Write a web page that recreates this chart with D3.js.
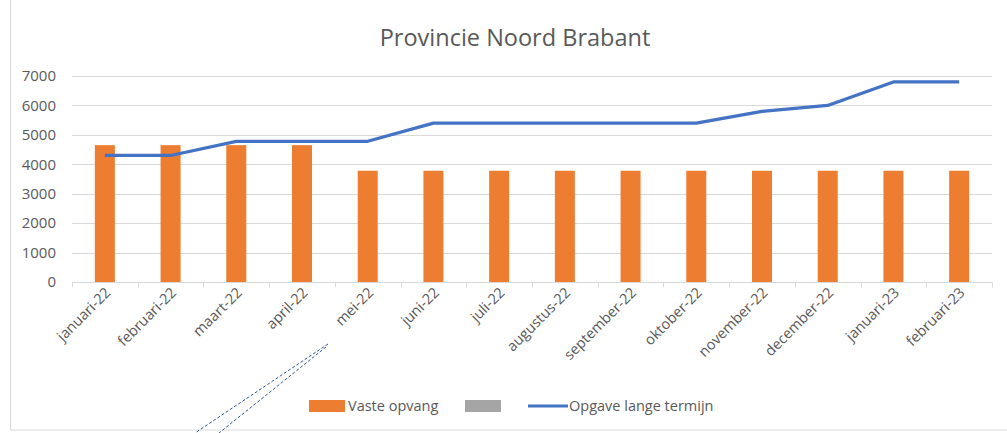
<!DOCTYPE html>
<meta charset="utf-8">
<style>
body { margin: 0; background: #fff; }
text { font-family: "Open Sans", "Noto Sans", sans-serif; fill: #595959; }
</style>
<svg width="1007" height="433"></svg>
<script src="https://d3js.org/d3.v7.min.js"></script>
<script>

var months = ["januari-22", "februari-22", "maart-22", "april-22", "mei-22", "juni-22", "juli-22",
  "augustus-22", "september-22", "oktober-22", "november-22", "december-22", "januari-23", "februari-23"];
var vasteOpvang = [4650, 4650, 4650, 4650, 3780, 3780, 3780, 3780, 3780, 3780, 3780, 3780, 3780, 3780];
var opgaveLangeTermijn = [4300, 4300, 4780, 4780, 4780, 5400, 5400, 5400, 5400, 5400, 5800, 6000, 6800, 6800];
var yTicks = [0, 1000, 2000, 3000, 4000, 5000, 6000, 7000];

var svg = d3.select("svg");

// frame of the chart area
svg.append("rect")
    .attr("x", 10.5).attr("y", -2)
    .attr("width", 1000).attr("height", 432)
    .attr("fill", "none").attr("stroke", "#d9d9d9");

var x = d3.scaleBand().domain(months).range([72, 992]);
var y = d3.scaleLinear().domain([0, 7000]).range([282, 76]);

// title
svg.append("text")
    .attr("x", 515).attr("y", 46)
    .attr("text-anchor", "middle")
    .style("font-size", "23.5px")
    .text("Provincie Noord Brabant");

// grid
svg.append("g")
  .selectAll("line")
  .data(yTicks.slice(1))
  .enter().append("line")
    .attr("x1", 72).attr("x2", 992)
    .attr("y1", function(d) { return Math.round(y(d)) + 0.5; })
    .attr("y2", function(d) { return Math.round(y(d)) + 0.5; })
    .attr("stroke", "#d9d9d9");

// y labels
svg.append("g")
  .selectAll("text")
  .data(yTicks)
  .enter().append("text")
    .attr("x", 56)
    .attr("y", function(d) { return y(d); })
    .attr("dy", "0.35em")
    .attr("text-anchor", "end")
    .style("font-size", "15px")
    .text(function(d) { return d; });

// bars
var barW = 20;
svg.append("g")
  .selectAll("rect")
  .data(vasteOpvang)
  .enter().append("rect")
    .attr("x", function(d, i) { return x(months[i]) + x.bandwidth() / 2 - barW / 2; })
    .attr("y", function(d) { return y(d); })
    .attr("width", barW)
    .attr("height", function(d) { return y(0) - y(d); })
    .attr("fill", "#ed7d31");

// x axis line + ticks
var axis = svg.append("g").attr("transform", "translate(0,282.5)");
axis.append("line").attr("x1", 72).attr("x2", 992).attr("stroke", "#d9d9d9");
axis.selectAll("line.tick")
  .data(d3.range(months.length + 1))
  .enter().append("line")
    .attr("class", "tick")
    .attr("x1", function(i) { return Math.round(72 + i * x.step()) + 0.5; })
    .attr("x2", function(i) { return Math.round(72 + i * x.step()) + 0.5; })
    .attr("y1", 0).attr("y2", 5)
    .attr("stroke", "#d9d9d9");

// x labels, rotated
svg.append("g")
  .selectAll("text")
  .data(months)
  .enter().append("text")
    .attr("transform", function(d) {
      return "translate(" + (x(d) + x.bandwidth() / 2 + 3) + ",290) rotate(-45)";
    })
    .attr("text-anchor", "end")
    .attr("dy", "0.35em")
    .style("font-size", "14.5px")
    .text(function(d) { return d; });

// line
var line = d3.line()
    .x(function(d, i) { return x(months[i]) + x.bandwidth() / 2; })
    .y(function(d) { return y(d); });
svg.append("path")
    .datum(opgaveLangeTermijn)
    .attr("d", line)
    .attr("fill", "none")
    .attr("stroke", "#4472c4")
    .attr("stroke-width", 3.2)
    .attr("stroke-linejoin", "round");

// dashed annotation strokes at bottom left
svg.append("g")
  .selectAll("line")
  .data([[328, 344, 195, 433], [326, 347, 219, 433]])
  .enter().append("line")
    .attr("x1", function(d) { return d[0]; }).attr("y1", function(d) { return d[1]; })
    .attr("x2", function(d) { return d[2]; }).attr("y2", function(d) { return d[3]; })
    .attr("stroke", "#2f5597")
    .attr("stroke-width", 1)
    .attr("stroke-dasharray", "3,2");

// legend
var legend = svg.append("g").attr("transform", "translate(0,406)");
legend.append("rect").attr("x", 309).attr("y", -6).attr("width", 36).attr("height", 12).attr("fill", "#ed7d31");
legend.append("text").attr("x", 348).attr("dy", "0.35em").style("font-size", "14.5px").text("Vaste opvang");
legend.append("rect").attr("x", 465).attr("y", -6).attr("width", 36).attr("height", 12).attr("fill", "#a5a5a5");
legend.append("line").attr("x1", 528).attr("x2", 568).attr("stroke", "#4472c4").attr("stroke-width", 3);
legend.append("text").attr("x", 569).attr("dy", "0.35em").style("font-size", "14.5px").text("Opgave lange termijn");

</script>
